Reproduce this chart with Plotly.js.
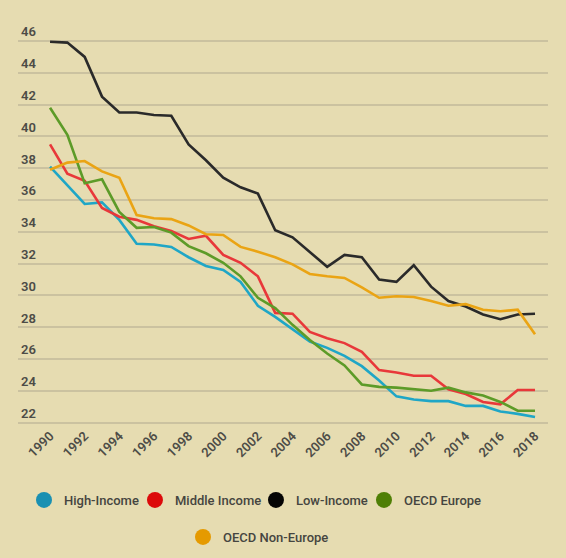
<!DOCTYPE html>
<html>
<head>
<meta charset="utf-8">
<script src="https://cdn.plot.ly/plotly-3.0.1.min.js"></script>
<style>
html,body{margin:0;padding:0;background:#e6dcb1;}
#chart{width:566px;height:558px;}
</style>
</head>
<body>
<div id="chart"></div>
<script>
const years = [1990,1991,1992,1993,1994,1995,1996,1997,1998,1999,2000,2001,2002,2003,2004,2005,2006,2007,2008,2009,2010,2011,2012,2013,2014,2015,2016,2017,2018];
const highIncome   = [38.1,36.95,35.75,35.85,34.75,33.25,33.2,33.05,32.4,31.85,31.6,30.85,29.35,28.65,27.9,27.1,26.7,26.2,25.55,24.65,23.65,23.45,23.35,23.35,23.05,23.05,22.7,22.55,22.35];
const middleIncome = [39.5,37.65,37.2,35.5,34.95,34.75,34.35,34.05,33.55,33.75,32.55,32.05,31.2,28.9,28.85,27.7,27.3,27.0,26.45,25.3,25.15,24.95,24.95,24.1,23.8,23.3,23.15,24.05,24.05];
const lowIncome    = [45.95,45.9,45.0,42.5,41.5,41.5,41.35,41.3,39.5,38.5,37.4,36.8,36.4,34.1,33.65,32.75,31.8,32.55,32.4,31.0,30.85,31.9,30.55,29.65,29.3,28.8,28.5,28.8,28.85];
const oecdEurope   = [41.8,40.1,37.05,37.3,35.25,34.25,34.3,33.95,33.1,32.65,32.05,31.2,29.85,29.2,28.15,27.2,26.35,25.6,24.4,24.25,24.2,24.1,24.0,24.2,23.9,23.7,23.3,22.75,22.75];
const oecdNonEurope= [37.9,38.35,38.45,37.8,37.4,35.05,34.85,34.8,34.4,33.85,33.8,33.05,32.75,32.4,31.95,31.35,31.2,31.1,30.5,29.85,29.95,29.9,29.65,29.35,29.45,29.1,29.0,29.1,27.55];

const seriesNames = ['High-Income','Middle Income','Low-Income','OECD Europe','OECD Non-Europe'];
const seriesData = [highIncome, middleIncome, lowIncome, oecdEurope, oecdNonEurope];
const lineColors = ['#1fa6c6','#e8383a','#2a2a2a','#5d9b28','#eaa414'];
const legendColors = ['#1a90b2','#dc0a0a','#050505','#4f7f06','#e59a00'];
const xTickVals = [1990,1992,1994,1996,1998,2000,2002,2004,2006,2008,2010,2012,2014,2016,2018];
const yTickVals = [22,24,26,28,30,32,34,36,38,40,42,44,46];

const legendIds = ['legend','legend2','legend3','legend4','legend5'];
const legendX = [0.0113,0.2207,0.449,0.6528,0.3113];
const legendY = [-0.1481,-0.1481,-0.1481,-0.1481,-0.2395];

const traces = [];
seriesData.forEach((d,i)=>{
  traces.push({x:years, y:d, type:'scatter', mode:'lines', name:seriesNames[i],
    line:{color:lineColors[i], width:2.6}, showlegend:false, hoverinfo:'skip'});
});
seriesNames.forEach((n,i)=>{
  traces.push({x:[null], y:[null], type:'scatter', mode:'markers', name:n,
    marker:{color:legendColors[i], size:16, symbol:'circle'},
    showlegend:true, legend: legendIds[i]});
});

const tickFont = {family:'Roboto, "Open Sans", sans-serif', size:13, color:'#4d4c47', weight:600};
const legFont = {family:'Roboto, "Open Sans", sans-serif', size:13, color:'#454540', weight:500};
const layout = {
  width:566, height:558,
  paper_bgcolor:'#e6dcb1', plot_bgcolor:'#e6dcb1',
  margin:{l:18, r:18, t:20, b:133, autoexpand:false},
  xaxis:{range:[1988.15,2018.75], tickvals:xTickVals, tickangle:-45, showgrid:false,
    zeroline:false, showline:false, ticks:'', tickfont:tickFont, fixedrange:true, automargin:false},
  yaxis:{range:[21.85,47.32], tickvals:yTickVals, ticklabelposition:'inside top',
    showgrid:true, gridcolor:'#cbc2a0', gridwidth:2, zeroline:false, showline:false,
    ticks:'', tickfont:tickFont, fixedrange:true, automargin:false},
  showlegend:true
};
legendIds.forEach((id,i)=>{
  layout[id] = {orientation:'h', x:legendX[i], xanchor:'left', y:legendY[i], yanchor:'top',
    bgcolor:'rgba(0,0,0,0)', font:legFont};
});
Plotly.newPlot('chart', traces, layout, {displayModeBar:false, staticPlot:true});
</script>
</body>
</html>
